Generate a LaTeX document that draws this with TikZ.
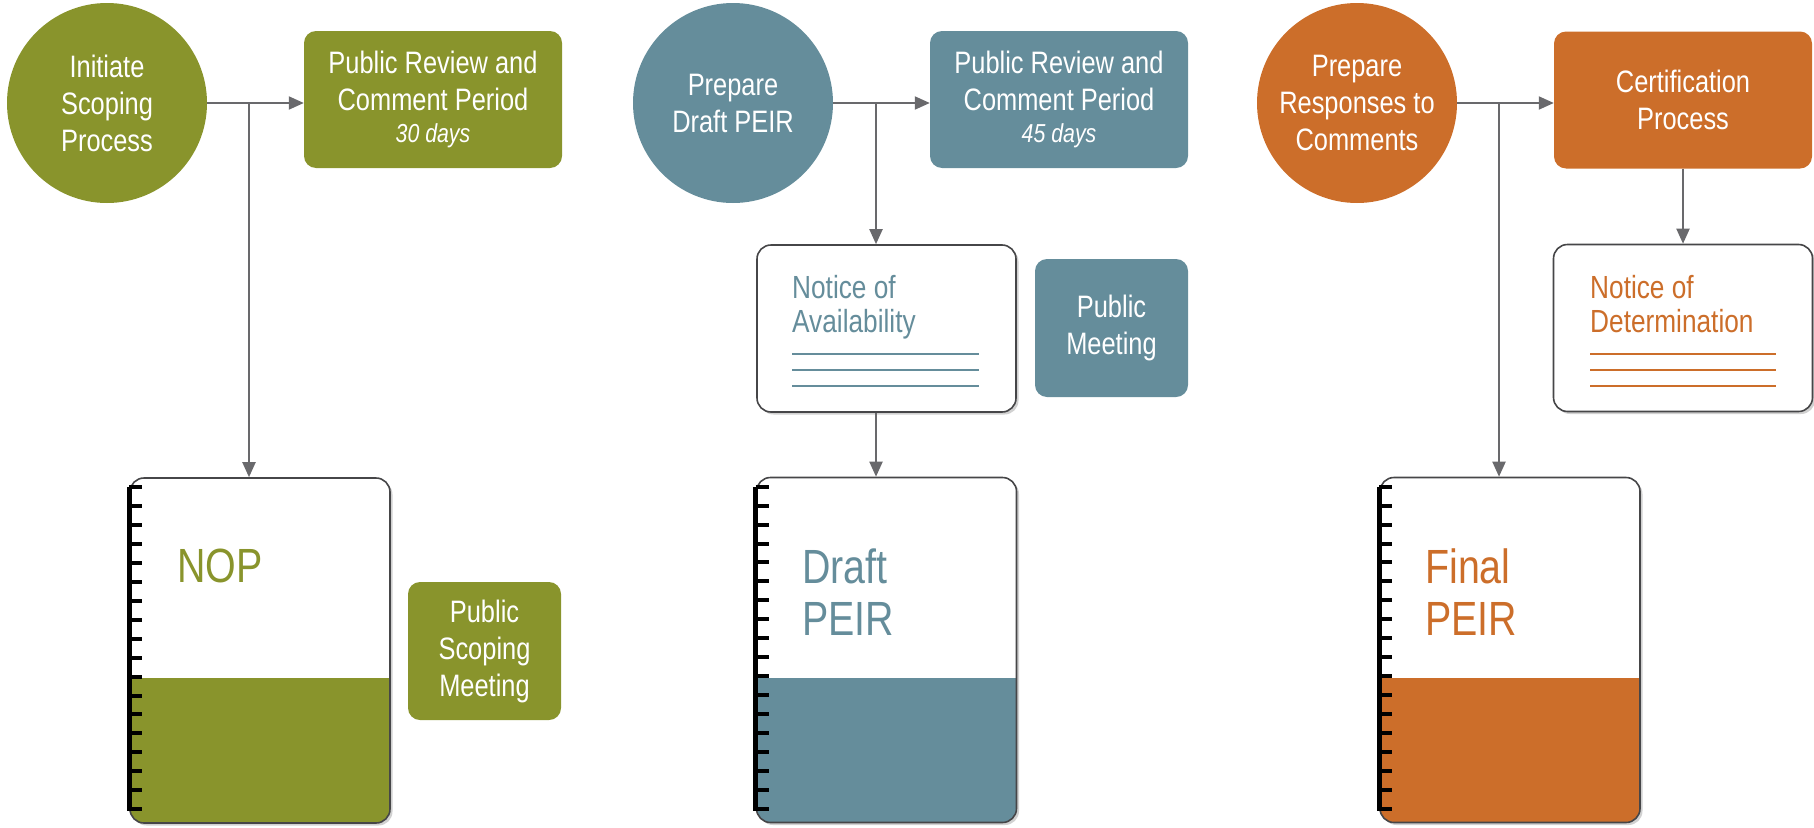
\documentclass[tikz,border=0pt]{standalone}
\usepackage{fontspec}
\setmainfont{Liberation Sans}[FakeStretch=0.82]
\usetikzlibrary{arrows.meta,shadows}
\definecolor{cgreen}{RGB}{137,148,44}
\definecolor{cblue}{RGB}{101,141,155}
\definecolor{corange}{RGB}{204,110,42}
\definecolor{arrowgray}{RGB}{105,105,108}
\definecolor{docgray}{RGB}{70,70,72}
\begin{document}
\begin{tikzpicture}[x=1pt,y=-1pt,
  every node/.style={inner sep=0pt},
  txt/.style={font=\fontsize{31}{37}\selectfont},
  proc/.style={circle, minimum size=200pt, text=white, align=center, txt},
  rbox/.style={rectangle, rounded corners=12pt, minimum width=258pt, minimum height=137pt, text=white, align=center, txt},
  sbox/.style={rectangle, rounded corners=12pt, minimum width=153pt, minimum height=138pt, text=white, align=center, txt},
  softshadow/.style={drop shadow={shadow xshift=2.5pt, shadow yshift=-2.5pt, opacity=0.18, fill=black}},
  notice/.style={rectangle, rounded corners=14pt, draw=docgray, line width=1.6pt, fill=white, minimum width=259pt, minimum height=167pt, softshadow},
  noticetxt/.style={anchor=north west, align=left, font=\fontsize{32}{34}\selectfont},
  doc/.style={rectangle, rounded corners=14pt, draw=docgray, line width=1.6pt, fill=white, minimum width=260pt, minimum height=345pt, softshadow,
    path picture={\fill[#1, sharp corners] ([yshift=-2pt,xshift=-2pt]path picture bounding box.south west) rectangle ([yshift=145pt,xshift=2pt]path picture bounding box.south east);}},
  doctxt/.style={anchor=north west, align=left, font=\fontsize{48}{52}\selectfont},
  spine/.style={line width=5pt, black},
  ticks/.style={line width=4pt, black},
  rule/.style={line width=1.5pt},
  arr/.style={draw=arrowgray, line width=2pt, -{Triangle[length=15pt,width=13pt]}},
]
\useasboundingbox (0,0) rectangle (1814,827);

% ---- column 1 ----
\node[proc, fill=cgreen] (c1) at (107,103) {Initiate\\Scoping\\Process};
\node[rbox, fill=cgreen] (pr1) at (433,99.5) {Public Review and\\Comment Period\\[-5pt]{\fontsize{26}{28}\selectfont\itshape 30 days}};
\node[doc=cgreen] (nop) at (260,650.5) {};
\node[doctxt, text=cgreen] (nopt) at (177,549) {NOP};
\node[sbox, fill=cgreen] (psm) at (484.5,651) {Public\\Scoping\\Meeting};
\coordinate (b1) at (249,103);

% ---- column 2 ----
\node[proc, fill=cblue] (c2) at (733,103) {Prepare\\Draft PEIR};
\node[rbox, fill=cblue] (pr2) at (1059,99.5) {Public Review and\\Comment Period\\[-5pt]{\fontsize{26}{28}\selectfont\itshape 45 days}};
\node[notice] (nav) at (886.5,328.5) {};
\node[noticetxt, text=cblue] (navt) at (792,275) {Notice of\\Availability};
\foreach \yy in {354,370,386} \draw[rule, cblue] (792,\yy) -- (979,\yy);
\node[sbox, fill=cblue] (pm) at (1111.5,328) {Public\\Meeting};
\node[doc=cblue] (draft) at (886.5,650) {};
\node[doctxt, text=cblue] (draftt) at (802,549) {Draft\\PEIR};
\coordinate (b2) at (876,103);

% ---- column 3 ----
\node[proc, fill=corange] (c3) at (1357,103) {Prepare\\Responses to\\Comments};
\node[rbox, fill=corange] (cert) at (1683,100) {Certification\\Process};
\node[notice] (nod) at (1683,328) {};
\node[noticetxt, text=corange] (nodt) at (1590,275) {Notice of\\Determination};
\foreach \yy in {354,370,386} \draw[rule, corange] (1590,\yy) -- (1776,\yy);
\node[doc=corange] (final) at (1510,650) {};
\node[doctxt, text=corange] (finalt) at (1425,549) {Final\\PEIR};
\coordinate (b3) at (1499,103);

% ---- spines ----
\foreach \d in {nop,draft,final} {
  \draw[spine] (\d.north west) ++(0,10) -- ++(0,324);
  \foreach \i in {0,...,17} {
    \draw[ticks] (\d.north west) ++(0,10+\i*18.94) -- ++(13,0);
  }
}

% ---- connectors ----
\draw[arr] (c1.east) -- (c1.east -| pr1.west);
\draw[arr] (b1) -- (b1 |- nop.north);
\draw[arr] (c2.east) -- (c2.east -| pr2.west);
\draw[arr] (b2) -- (b2 |- nav.north);
\draw[arr] (nav.south -| b2) -- (b2 |- draft.north);
\draw[arr] (c3.east) -- (c3.east -| cert.west);
\draw[arr] (cert.south) -- (nod.north);
\draw[arr] (b3) -- (b3 |- final.north);
\end{tikzpicture}
\end{document}
